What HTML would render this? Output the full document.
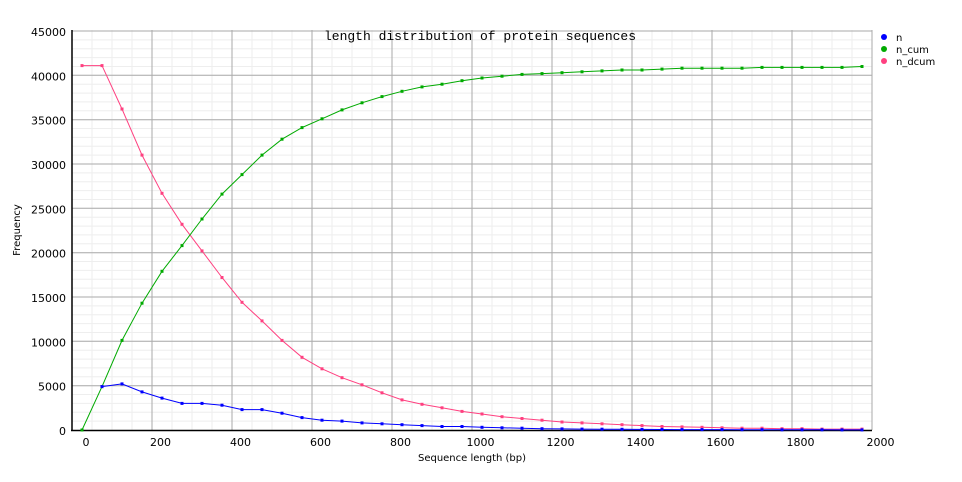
<!DOCTYPE html>
<html><head><meta charset="utf-8"><style>
body{margin:0;background:#fff}
svg{display:block}
text{font-family:"DejaVu Sans","Liberation Sans",sans-serif;font-size:11px;fill:#000}
</style></head><body>
<svg id="s" width="962" height="482" xmlns="http://www.w3.org/2000/svg"></svg>
<script>
var s=document.getElementById('s'),h='';
function X(v){return 72+v*0.4}
function Y(v){return 430-v*399/45000}
for(var x=92;x<872;x+=20)h+='<line x1="'+x+'" y1="30" x2="'+x+'" y2="430" stroke="#eeeeee"/>';
for(var v=1000;v<45000;v+=1000)h+='<line x1="72" y1="'+Y(v).toFixed(1)+'" x2="872" y2="'+Y(v).toFixed(1)+'" stroke="#eeeeee"/>';
for(var v=200;v<=2000;v+=200)h+='<line x1="'+X(v)+'" y1="30" x2="'+X(v)+'" y2="430" stroke="#aaaaaa"/>';
for(var v=5000;v<=45000;v+=5000)h+='<line x1="72" y1="'+Y(v).toFixed(1)+'" x2="872" y2="'+Y(v).toFixed(1)+'" stroke="#aaaaaa"/>';
h+='<line x1="72" y1="30" x2="72" y2="431" stroke="#000" stroke-width="1.5"/>';
h+='<line x1="71" y1="430.5" x2="872" y2="430.5" stroke="#000" stroke-width="1.5"/>';
for(var v=0;v<=45000;v+=5000)h+='<text x="66" y="'+(Y(v)+5).toFixed(1)+'" text-anchor="end">'+v+'</text>';
for(var v=0;v<=2000;v+=200)h+='<text x="'+(v==0?86:X(v)+8.5)+'" y="446" text-anchor="middle">'+v+'</text>';
var ncum=[0,4900,10100,14300,17900,20800,23800,26600,28800,31000,32800,34100,35100,36100,36900,37600,38200,38700,39000,39400,39700,39900,40100,40200,40300,40400,40500,40600,40600,40700,40800,40800,40800,40800,40900,40900,40900,40900,40900,41000];
var nd=[41100,41100,36200,31000,26700,23200,20200,17200,14400,12300,10100,8200,6900,5900,5100,4200,3400,2900,2500,2100,1800,1500,1300,1100,900,800,700,600,500,400,350,300,250,200,200,150,150,100,100,100];
var n=[null,4900,5200,4300,3600,3000,3000,2800,2300,2300,1900,1400,1100,1000,800,700,600,500,400,400,300,250,200,150,120,100,90,80,70,60,50,40,40,30,30,20,20,20,10,10];
function ser(d,c){var p='';for(var i=0;i<d.length;i++)if(d[i]!==null)p+=(82+20*i)+','+Y(d[i]).toFixed(1)+' ';
h+='<polyline points="'+p+'" fill="none" stroke="'+c+'" stroke-width="1"/>';
for(var i=0;i<d.length;i++)if(d[i]!==null)h+='<rect x="'+(80.5+20*i)+'" y="'+(Y(d[i])-1.5).toFixed(1)+'" width="3" height="3" fill="'+c+'"/>';}
ser(nd,'#ff4080');ser(ncum,'#00aa00');ser(n,'#0000ff');
h+='<text x="480" y="40" text-anchor="middle" style="font-family:\'Liberation Mono\',monospace;font-size:13px">length distribution of protein sequences</text>';
h+='<text x="20" y="230" text-anchor="middle" transform="rotate(-90 20 230)" style="font-size:10px">Frequency</text>';
h+='<text x="472" y="461" text-anchor="middle" style="font-size:10px">Sequence length (bp)</text>';
var L=[['n','#0000ff'],['n_cum','#00aa00'],['n_dcum','#ff4080']];
for(var i=0;i<3;i++){var y=37+12*i;h+='<circle cx="884" cy="'+y+'" r="3" fill="'+L[i][1]+'"/><text x="896" y="'+(y+4)+'" style="font-size:10px">'+L[i][0]+'</text>';}
s.innerHTML=h;
</script>
</body></html>
